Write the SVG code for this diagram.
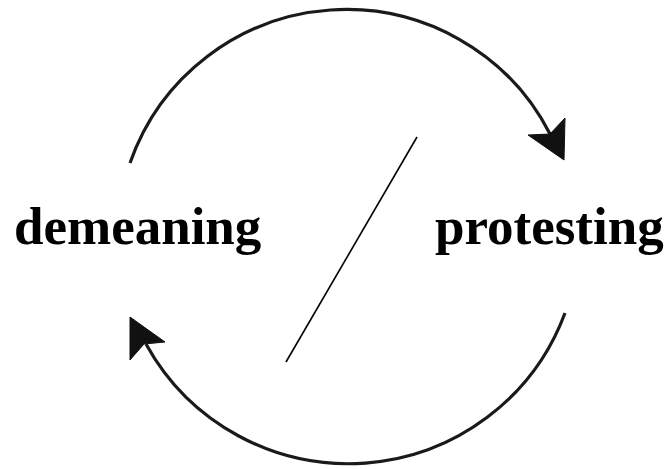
<svg xmlns="http://www.w3.org/2000/svg" width="666" height="469" viewBox="0 0 666 469">
<style>
.lbl{font-family:"Liberation Serif","Times New Roman",serif;font-weight:bold;font-size:53px;fill:#000}
.arc{fill:none;stroke:#1a1a1a;stroke-width:3.2}
.head{fill:#111;stroke:#111;stroke-width:1;stroke-linejoin:miter}
</style>
<rect width="666" height="469" fill="#fff"/>
<g id="demeaning"><text class="lbl" x="14" y="244">demeaning</text></g>
<g id="protesting"><text class="lbl" x="435" y="244">protesting</text></g>
<g id="connectors">
<path class="arc" d="M130,163 A229,229 0 0 1 550,134"/>
<polygon class="head" points="564,160 528,135 550,134 565,118"/>
<path class="arc" d="M565,313 A231,231 0 0 1 146,344"/>
<polygon class="head" points="130,317 165,342 144,344 130,360"/>
<line x1="417" y1="137" x2="286" y2="362" stroke="#000" stroke-width="1.6"/>
</g>
</svg>
